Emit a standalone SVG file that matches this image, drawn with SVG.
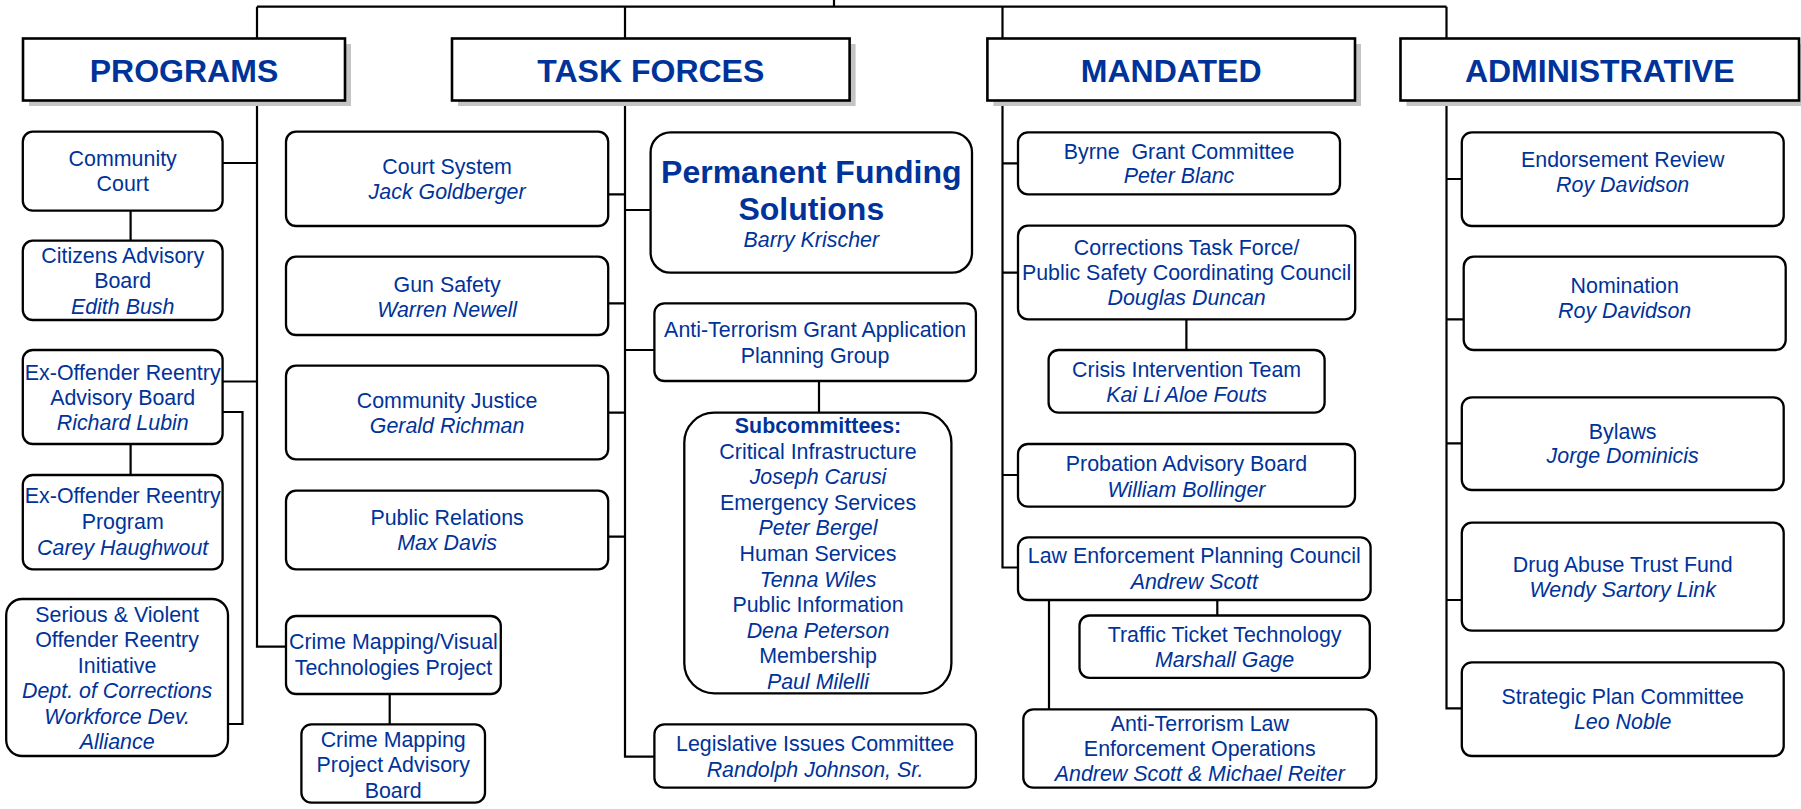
<svg xmlns="http://www.w3.org/2000/svg" width="1801" height="809" viewBox="0 0 1801 809">
<style>
.bg{fill:#fff}
.box{fill:#fff;stroke:#000;stroke-width:2.3}
.hdr{fill:#fff;stroke:#000;stroke-width:2.6}
.sh{fill:#c4c4c4}
.t{font-family:"Liberation Sans",Arial,sans-serif;font-size:21.4px;fill:#003399;text-anchor:middle}
.i{font-style:italic}
.b{font-weight:bold}
.h{font-size:32px;font-weight:bold}
.c{fill:none;stroke:#000;stroke-width:2.2}
</style>
<rect class="bg" x="0" y="0" width="1801" height="809"/>
<g id="connectors">
<path class="c" d="M257,6.7 H1446.5 M834,0 V6.7 M257,6.7 V38.5 M625,6.7 V38.5 M1002.5,6.7 V38.5 M1446.5,6.7 V38.5"/>
<path class="c" d="M257,100.7 V646.7 H286 M222.6,163 H257 M130.6,210.7 V240.7 M222.6,381.5 H257 M222.6,412 H242.5 V724 H228 M130.6,444 V475 M389.7,694 V724.3"/>
<path class="c" d="M625,100.7 V756.7 H654.4 M608.2,194.3 H625 M608.2,303.3 H625 M608.2,412.7 H625 M608.2,536.7 H625 M625,210 H650.6 M625,350 H654.4 M819,381 V412.7"/>
<path class="c" d="M1002.5,100.7 V567.5 H1018 M1002.5,163.3 H1018 M1002.5,272.7 H1018 M1002.5,475 H1018 M1186.4,319.3 V350 M1217.3,600 V615.5 M1049,600 V709.3"/>
<path class="c" d="M1446.5,100.7 V708.3 H1461.8 M1446.5,179 H1461.8 M1446.5,319.3 H1463.7 M1446.5,443.3 H1461.8 M1446.5,600 H1461.8"/>
</g>
<g id="hdr-programs">
<rect class="sh" x="29" y="44" width="322" height="62"/>
<rect class="hdr" x="23" y="38.5" width="322" height="62"/>
<text class="t h" x="184" y="81.7">PROGRAMS</text>
</g>
<g id="hdr-taskforces">
<rect class="sh" x="458" y="44" width="397.6" height="62"/>
<rect class="hdr" x="452" y="38.5" width="397.6" height="62"/>
<text class="t h" x="650.8" y="81.7">TASK FORCES</text>
</g>
<g id="hdr-mandated">
<rect class="sh" x="993.4" y="44" width="367.6" height="62"/>
<rect class="hdr" x="987.4" y="38.5" width="367.6" height="62"/>
<text class="t h" x="1171.2" y="81.7">MANDATED</text>
</g>
<g id="hdr-administrative">
<rect class="sh" x="1406.5" y="44" width="398.5" height="62"/>
<rect class="hdr" x="1400.5" y="38.5" width="398.5" height="62"/>
<text class="t h" x="1599.7" y="81.7">ADMINISTRATIVE</text>
</g>
<g id="community-court">
<rect class="box" x="22.8" y="131.7" width="199.8" height="79" rx="10"/>
<text class="t" x="122.7" y="165.7">Community</text>
<text class="t" x="122.7" y="191.3">Court</text>
</g>
<g id="citizens-advisory">
<rect class="box" x="22.8" y="240.7" width="199.8" height="79.3" rx="10"/>
<text class="t" x="122.7" y="263.3">Citizens Advisory</text>
<text class="t" x="122.7" y="288.3">Board</text>
<text class="t i" x="122.7" y="314">Edith Bush</text>
</g>
<g id="exoffender-advisory">
<rect class="box" x="22.8" y="350" width="199.8" height="94" rx="10"/>
<text class="t" x="122.7" y="380">Ex-Offender Reentry</text>
<text class="t" x="122.7" y="405">Advisory Board</text>
<text class="t i" x="122.7" y="430">Richard Lubin</text>
</g>
<g id="exoffender-program">
<rect class="box" x="22.8" y="475" width="199.8" height="94.3" rx="10"/>
<text class="t" x="122.7" y="503.3">Ex-Offender Reentry</text>
<text class="t" x="122.7" y="529">Program</text>
<text class="t i" x="122.7" y="555">Carey Haughwout</text>
</g>
<g id="serious-violent">
<rect class="box" x="6.2" y="599" width="221.8" height="157" rx="16"/>
<text class="t" x="117.1" y="621.7">Serious &amp; Violent</text>
<text class="t" x="117.1" y="647">Offender Reentry</text>
<text class="t" x="117.1" y="672.7">Initiative</text>
<text class="t i" x="117.1" y="698.3">Dept. of Corrections</text>
<text class="t i" x="117.1" y="724">Workforce Dev.</text>
<text class="t i" x="117.1" y="749.3">Alliance</text>
</g>
<g id="court-system">
<rect class="box" x="286" y="131.7" width="322.2" height="94.3" rx="10"/>
<text class="t" x="447.1" y="174">Court System</text>
<text class="t i" x="447.1" y="199">Jack Goldberger</text>
</g>
<g id="gun-safety">
<rect class="box" x="286" y="256.7" width="322.2" height="78.3" rx="10"/>
<text class="t" x="447.1" y="291.5">Gun Safety</text>
<text class="t i" x="447.1" y="316.5">Warren Newell</text>
</g>
<g id="community-justice">
<rect class="box" x="286" y="365.7" width="322.2" height="93.6" rx="10"/>
<text class="t" x="447.1" y="408">Community Justice</text>
<text class="t i" x="447.1" y="432.7">Gerald Richman</text>
</g>
<g id="public-relations">
<rect class="box" x="286" y="490.7" width="322.2" height="78.6" rx="10"/>
<text class="t" x="447.1" y="525">Public Relations</text>
<text class="t i" x="447.1" y="550">Max Davis</text>
</g>
<g id="crime-mapping">
<rect class="box" x="286" y="616" width="214.8" height="78" rx="10"/>
<text class="t" x="393.4" y="649.3">Crime Mapping/Visual</text>
<text class="t" x="393.4" y="675">Technologies Project</text>
</g>
<g id="crime-mapping-advisory">
<rect class="box" x="301.4" y="724.3" width="183.6" height="78.4" rx="10"/>
<text class="t" x="393.2" y="746.7">Crime Mapping</text>
<text class="t" x="393.2" y="772.3">Project Advisory</text>
<text class="t" x="393.2" y="797.7">Board</text>
</g>
<g id="permanent-funding">
<rect class="box" x="650.6" y="132.3" width="321.4" height="140.4" rx="20"/>
<text class="t h" x="811.3" y="182.7">Permanent Funding</text>
<text class="t h" x="811.3" y="220">Solutions</text>
<text class="t i" x="811.3" y="247.3">Barry Krischer</text>
</g>
<g id="anti-terrorism-grant">
<rect class="box" x="654.4" y="303.3" width="321.5" height="77.7" rx="10"/>
<text class="t" x="815.1" y="336.7">Anti-Terrorism Grant Application</text>
<text class="t" x="815.1" y="362.7">Planning Group</text>
</g>
<g id="subcommittees">
<rect class="box" x="684.3" y="412.7" width="267.1" height="280.6" rx="30"/>
<text class="t b" x="818" y="433">Subcommittees:</text>
<text class="t" x="818" y="458.6">Critical Infrastructure</text>
<text class="t i" x="818" y="484.2">Joseph Carusi</text>
<text class="t" x="818" y="509.8">Emergency Services</text>
<text class="t i" x="818" y="535.4">Peter Bergel</text>
<text class="t" x="818" y="561">Human Services</text>
<text class="t i" x="818" y="586.6">Tenna Wiles</text>
<text class="t" x="818" y="612.2">Public Information</text>
<text class="t i" x="818" y="637.8">Dena Peterson</text>
<text class="t" x="818" y="663.4">Membership</text>
<text class="t i" x="818" y="689">Paul Milelli</text>
</g>
<g id="legislative">
<rect class="box" x="654.4" y="724.3" width="321.5" height="63.4" rx="10"/>
<text class="t" x="815.1" y="750.7">Legislative Issues Committee</text>
<text class="t i" x="815.1" y="776.7">Randolph Johnson, Sr.</text>
</g>
<g id="byrne">
<rect class="box" x="1018" y="132.3" width="322" height="62" rx="10"/>
<text class="t" x="1179" y="159" xml:space="preserve">Byrne  Grant Committee</text>
<text class="t i" x="1179" y="182.7">Peter Blanc</text>
</g>
<g id="corrections">
<rect class="box" x="1018" y="225.7" width="337.2" height="93.6" rx="10"/>
<text class="t" x="1186.6" y="255">Corrections Task Force/</text>
<text class="t" x="1186.6" y="280">Public Safety Coordinating Council</text>
<text class="t i" x="1186.6" y="305">Douglas Duncan</text>
</g>
<g id="crisis">
<rect class="box" x="1048.6" y="350" width="276" height="62.7" rx="10"/>
<text class="t" x="1186.6" y="376.7">Crisis Intervention Team</text>
<text class="t i" x="1186.6" y="401.7">Kai Li Aloe Fouts</text>
</g>
<g id="probation">
<rect class="box" x="1018" y="444" width="337" height="62.7" rx="10"/>
<text class="t" x="1186.5" y="471">Probation Advisory Board</text>
<text class="t i" x="1186.5" y="496.7">William Bollinger</text>
</g>
<g id="law-enforcement-planning">
<rect class="box" x="1018" y="537.3" width="352.6" height="62.7" rx="10"/>
<text class="t" x="1194.3" y="563.3">Law Enforcement Planning Council</text>
<text class="t i" x="1194.3" y="589">Andrew Scott</text>
</g>
<g id="traffic-ticket">
<rect class="box" x="1079.5" y="615.5" width="290.3" height="62.3" rx="10"/>
<text class="t" x="1224.6" y="641.7">Traffic Ticket Technology</text>
<text class="t i" x="1224.6" y="666.7">Marshall Gage</text>
</g>
<g id="anti-terrorism-law">
<rect class="box" x="1023.3" y="709.3" width="353" height="78.4" rx="10"/>
<text class="t" x="1199.8" y="730.7">Anti-Terrorism Law</text>
<text class="t" x="1199.8" y="756">Enforcement Operations</text>
<text class="t i" x="1199.8" y="781">Andrew Scott &amp; Michael Reiter</text>
</g>
<g id="endorsement">
<rect class="box" x="1461.8" y="132.3" width="321.9" height="93.7" rx="10"/>
<text class="t" x="1622.7" y="166.7">Endorsement Review</text>
<text class="t i" x="1622.7" y="192.3">Roy Davidson</text>
</g>
<g id="nomination">
<rect class="box" x="1463.7" y="256.7" width="322" height="93.3" rx="10"/>
<text class="t" x="1624.7" y="293.3">Nomination</text>
<text class="t i" x="1624.7" y="318.3">Roy Davidson</text>
</g>
<g id="bylaws">
<rect class="box" x="1461.8" y="397.3" width="321.9" height="92.7" rx="10"/>
<text class="t" x="1622.7" y="439.3">Bylaws</text>
<text class="t i" x="1622.7" y="463.3">Jorge Dominicis</text>
</g>
<g id="drug-abuse">
<rect class="box" x="1461.8" y="522.7" width="321.9" height="108" rx="10"/>
<text class="t" x="1622.7" y="571.7">Drug Abuse Trust Fund</text>
<text class="t i" x="1622.7" y="596.7">Wendy Sartory Link</text>
</g>
<g id="strategic-plan">
<rect class="box" x="1461.8" y="662.3" width="321.9" height="93.7" rx="10"/>
<text class="t" x="1622.7" y="704">Strategic Plan Committee</text>
<text class="t i" x="1622.7" y="729.3">Leo Noble</text>
</g>
</svg>
